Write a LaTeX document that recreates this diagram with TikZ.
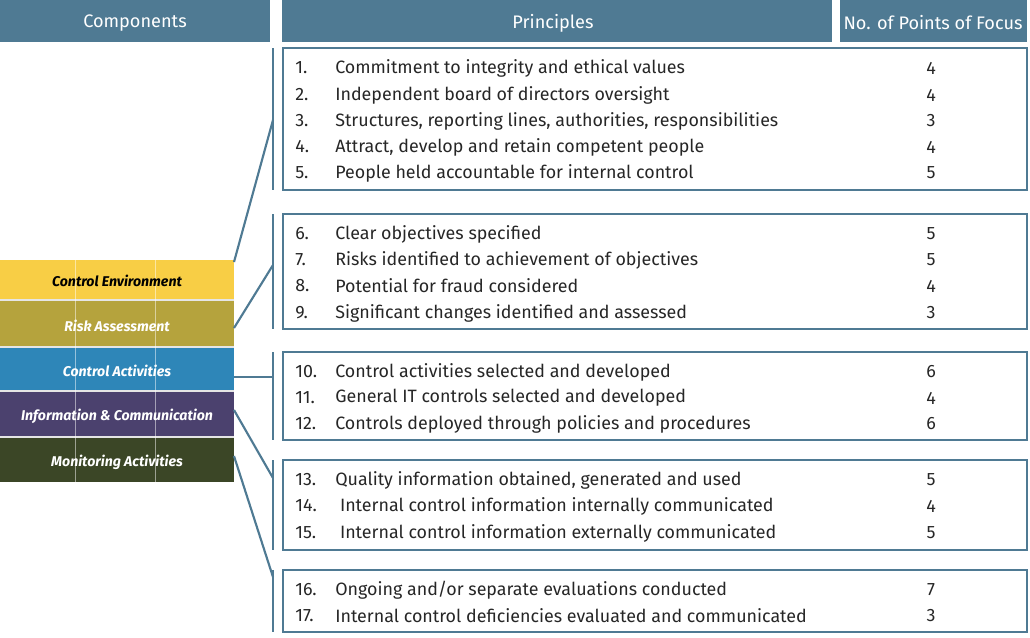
\documentclass[tikz,border=0pt]{standalone}
\usepackage{fontspec}
\setmainfont{Fira Sans}
\begin{document}
\begin{tikzpicture}[x=0.75pt,y=-0.75pt,
  grp/.style={draw=hdrc,line width=1.6pt},
  conn/.style={draw=hdrc,line width=1.6pt},
  txt/.style={anchor=west,inner sep=0pt,font=\fontsize{13.4}{15}\selectfont,text=black!85},
  num/.style={anchor=center,inner sep=0pt,font=\fontsize{13.4}{15}\selectfont,text=black!85},
  hd/.style={font=\fontsize{13.6}{15}\selectfont,text=white},
  comp/.style={anchor=center,font=\fontsize{10.6}{12}\selectfont\bfseries\itshape,text=white}]
\definecolor{hdrc}{HTML}{4F7A93}
\definecolor{ce}{HTML}{F8CE45}\definecolor{ra}{HTML}{B5A33D}
\definecolor{ca}{HTML}{2E86B8}\definecolor{ic}{HTML}{4B416E}\definecolor{ma}{HTML}{3B4626}
\useasboundingbox (0,0) rectangle (1030,637);
% headers
\fill[hdrc] (0,0) rectangle (270,42);
\fill[hdrc] (282,0) rectangle (832,42);
\fill[hdrc] (840,0) rectangle (1027,42);
\node[hd] (h1) at (135,23) {Components};
\node[hd] (h2) at (553,23) {Principles};
\node[hd] (h3) at (933,23) {No. of Points of Focus};
% components
\fill[ce] (0,260) rectangle (234,300);
\fill[ra] (0,300) rectangle (234,347);
\fill[ca] (0,347) rectangle (234,391);
\fill[ic] (0,391) rectangle (234,437);
\fill[ma] (0,437) rectangle (234,482);
\draw[white!80!gray,line width=0.8pt] (0,300)--(234,300) (0,347)--(234,347) (0,391)--(234,391) (0,437)--(234,437);
\draw[white,opacity=0.5,line width=0.6pt] (75,260)--(75,482) (155,260)--(155,482);
\node[comp,text=black] (c1) at (117,281) {Control Environment};
\node[comp] (c2) at (117,326) {Risk Assessment};
\node[comp] (c3) at (117,371) {Control Activities};
\node[comp] (c4) at (117,416) {Information \& Communication};
\node[comp] (c5) at (117,462) {Monitoring Activities};
% groups
\foreach \n/\a/\b in {g1/48/190,g2/214/329,g3/352/440,g4/460/550,g5/570/632}{
  \draw[grp] (283,\a) rectangle (1027,\b);
  \draw[conn] (273,\a) -- (273,\b);
}
\coordinate (e1) at (273,120); \coordinate (e2) at (273,265);
\coordinate (e3) at (273,377); \coordinate (e4) at (273,478);
\coordinate (e5) at (273,577);
\coordinate (s1) at (234,262); \coordinate (s2) at (234,328);
\coordinate (s3) at (234,377); \coordinate (s4) at (234,410);
\coordinate (s5) at (234,456);
\foreach \i in {1,...,5}{\draw[conn] (s\i) -- (e\i);}
% rows
\foreach \y/\n/\t/\f in {
68/1./Commitment to integrity and ethical values/4,
95/2./Independent board of directors oversight/4,
121/3./{Structures, reporting lines, authorities, responsibilities}/3,
147/4./{Attract, develop and retain competent people}/4,
173/5./People held accountable for internal control/5,
234/6./Clear objectives specified/5,
260/7./Risks identified to achievement of objectives/5,
286/8./Potential for fraud considered/4,
313/9./Significant changes identified and assessed/3,
372/10./Control activities selected and developed/6,
398/11./General IT controls selected and developed/4,
424/12./Controls deployed through policies and procedures/6,
480/13./{Quality information obtained, generated and used}/5,
506/14./{\ Internal control information internally communicated}/4,
533/15./{\ Internal control information externally communicated}/5,
590/16./{Ongoing and/or separate evaluations conducted}/7,
616/17./Internal control deficiencies evaluated and communicated/3}{
  \node[txt] (n\n) at (295,\y) {\n};
  \node[txt] (t\n) at (335,\y) {\t};
  \node[num] (f\n) at (931,\y) {\f};
}
\end{tikzpicture}
\end{document}
